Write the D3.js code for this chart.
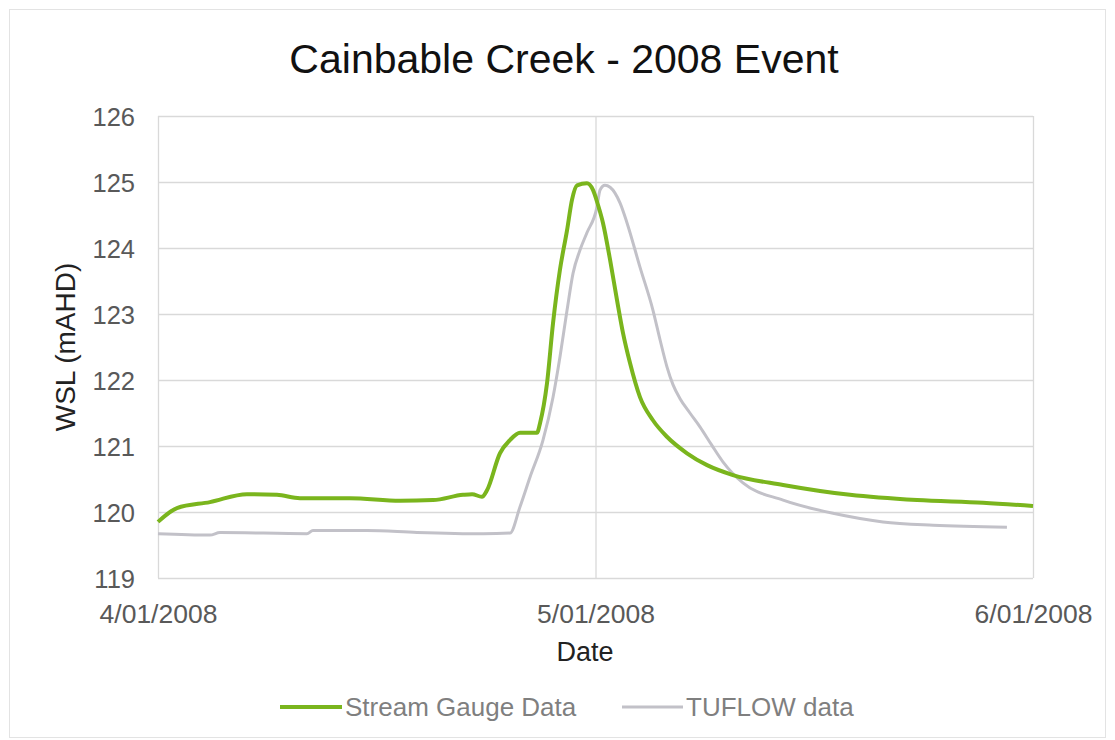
<!DOCTYPE html>
<html>
<head>
<meta charset="utf-8">
<script src="https://cdn.jsdelivr.net/npm/d3@7"></script>
<style>
  html, body { margin: 0; padding: 0; background: #ffffff; }
  svg { display: block; font-family: "Liberation Sans", Arial, sans-serif; }
</style>
</head>
<body>
<svg id="chart" width="1115" height="740"></svg>
<script>
// ---- data ----
const title = "Cainbable Creek - 2008 Event";
const xTitle = "Date";
const yTitle = "WSL (mAHD)";
const seriesNames = ["Stream Gauge Data", "TUFLOW data"];
const startDate = "2008-01-04T00:00:00";
const endDate = "2008-01-06T00:00:00";
const xTickDates = ["2008-01-04T00:00:00", "2008-01-05T00:00:00", "2008-01-06T00:00:00"];
const yTicks = [119, 120, 121, 122, 123, 124, 125, 126];

// hours after 4/01/2008 00:00
const gaugeHours = [0.00, 1.04, 2.85, 4.88, 6.53, 7.79, 10.53, 13.28, 15.09, 16.73, 17.23, 17.77, 18.05, 18.76, 19.31, 19.86, 20.79, 20.96, 21.34, 21.67, 22.05, 22.44, 22.71, 22.99, 23.53, 23.86, 24.14, 24.41, 24.80, 25.18, 25.51, 25.89, 26.44, 27.15, 27.92, 29.02, 30.12, 31.54, 34.29, 37.96, 41.64, 45.26, 48.00];
const gaugeWSL = [119.85, 120.06, 120.15, 120.27, 120.26, 120.21, 120.21, 120.17, 120.18, 120.26, 120.27, 120.23, 120.33, 120.89, 121.09, 121.20, 121.20, 121.35, 121.95, 122.86, 123.67, 124.27, 124.73, 124.95, 124.98, 124.88, 124.65, 124.38, 123.82, 123.21, 122.71, 122.26, 121.74, 121.39, 121.14, 120.89, 120.71, 120.56, 120.41, 120.26, 120.18, 120.14, 120.09];

const tuflowHours = [0.00, 2.85, 3.40, 8.17, 8.50, 11.47, 14.21, 17.83, 19.31, 19.86, 20.41, 21.12, 21.67, 22.05, 22.44, 22.77, 23.15, 23.53, 24.08, 24.25, 24.52, 24.80, 25.35, 25.73, 26.44, 27.15, 27.54, 27.92, 28.25, 28.63, 29.18, 29.73, 30.36, 30.99, 32.09, 34.29, 37.03, 39.77, 42.52, 46.57];
const tuflowWSL = [119.67, 119.65, 119.69, 119.67, 119.72, 119.72, 119.69, 119.67, 119.68, 120.08, 120.53, 121.09, 121.74, 122.35, 123.06, 123.62, 123.97, 124.23, 124.62, 124.88, 124.95, 124.92, 124.68, 124.38, 123.71, 123.06, 122.61, 122.20, 121.93, 121.72, 121.50, 121.29, 121.02, 120.76, 120.44, 120.18, 119.98, 119.85, 119.80, 119.77];

// ---- layout ----
const svg = d3.select("#chart");
const W = 1115, H = 740;
const plot = { left: 158, right: 1033, top: 116, bottom: 578 };
const colors = { gauge: "#7ab51d", tuflow: "#c2c1c8", grid: "#d9d9d9", tick: "#595959", legend: "#7f7f7f" };

const t0 = new Date(startDate);
const toDate = h => new Date(t0.getTime() + h * 3600 * 1000);

const x = d3.scaleTime().domain([new Date(startDate), new Date(endDate)]).range([plot.left, plot.right]);
const y = d3.scaleLinear().domain([119, 126]).range([plot.bottom, plot.top]);

// outer chart border
svg.append("rect").attr("x", 9.5).attr("y", 9.5).attr("width", W - 19).attr("height", H - 12)
  .attr("fill", "#fff").attr("stroke", "#e3e3e3").attr("stroke-width", 1);

// horizontal grid
svg.append("g")
  .attr("transform", `translate(${plot.left},0)`)
  .call(d3.axisLeft(y).tickValues(yTicks).tickSize(-(plot.right - plot.left)).tickFormat(""))
  .call(g => g.select(".domain").remove())
  .call(g => g.selectAll("line").attr("stroke", colors.grid).attr("stroke-width", 1.3));

// vertical grid
svg.append("g")
  .attr("transform", `translate(0,${plot.bottom})`)
  .call(d3.axisBottom(x).tickValues(xTickDates.map(d => new Date(d))).tickSize(-(plot.bottom - plot.top)).tickFormat(""))
  .call(g => g.select(".domain").remove())
  .call(g => g.selectAll("line").attr("stroke", colors.grid).attr("stroke-width", 1.3));

// y tick labels
svg.append("g")
  .attr("transform", `translate(${plot.left - 23},0)`)
  .call(d3.axisLeft(y).tickValues(yTicks).tickSize(0).tickFormat(d3.format("d")))
  .call(g => g.select(".domain").remove())
  .call(g => g.selectAll("text").attr("fill", colors.tick).attr("font-size", 25.5)
    .attr("font-family", "'Liberation Sans', Arial, sans-serif").attr("x", 0).attr("dy", "0.36em"));

// x tick labels
svg.append("g")
  .attr("transform", `translate(0,${plot.bottom})`)
  .call(d3.axisBottom(x).tickValues(xTickDates.map(d => new Date(d))).tickSize(0).tickFormat(d3.timeFormat("%-d/%m/%Y")))
  .call(g => g.select(".domain").remove())
  .call(g => g.selectAll("text").attr("fill", colors.tick).attr("font-size", 26.5)
    .attr("font-family", "'Liberation Sans', Arial, sans-serif").attr("y", 26).attr("dy", "0.71em"));

// series
const line = d3.line().x(d => x(d[0])).y(d => y(d[1])).curve(d3.curveMonotoneX);
const gaugeData = gaugeHours.map((h, i) => [toDate(h), gaugeWSL[i]]);
const tuflowData = tuflowHours.map((h, i) => [toDate(h), tuflowWSL[i]]);

svg.append("path").datum(tuflowData).attr("d", line)
  .attr("fill", "none").attr("stroke", colors.tuflow).attr("stroke-width", 3).attr("stroke-linejoin", "round");
svg.append("path").datum(gaugeData).attr("d", line)
  .attr("fill", "none").attr("stroke", colors.gauge).attr("stroke-width", 4).attr("stroke-linejoin", "round");

// titles
svg.append("text").attr("x", 564).attr("y", 73).attr("text-anchor", "middle")
  .attr("font-size", 41).attr("fill", "#111").text(title);
svg.append("text").attr("x", 585).attr("y", 661).attr("text-anchor", "middle")
  .attr("font-size", 27).attr("fill", "#222").text(xTitle);
svg.append("text").attr("transform", "translate(75,347) rotate(-90)").attr("text-anchor", "middle")
  .attr("font-size", 28).attr("fill", "#222").text(yTitle);

// legend
const legendItems = [
  { name: seriesNames[0], color: colors.gauge, x1: 280, x2: 342, width: 4 },
  { name: seriesNames[1], color: colors.tuflow, x1: 622, x2: 683, width: 3 }
];
const lg = svg.append("g");
legendItems.forEach(it => {
  lg.append("line").attr("x1", it.x1).attr("x2", it.x2).attr("y1", 707).attr("y2", 707)
    .attr("stroke", it.color).attr("stroke-width", it.width);
  lg.append("text").attr("x", it.x2 + 3).attr("y", 716).attr("font-size", 26)
    .attr("fill", colors.legend).text(it.name);
});
</script>
</body>
</html>
